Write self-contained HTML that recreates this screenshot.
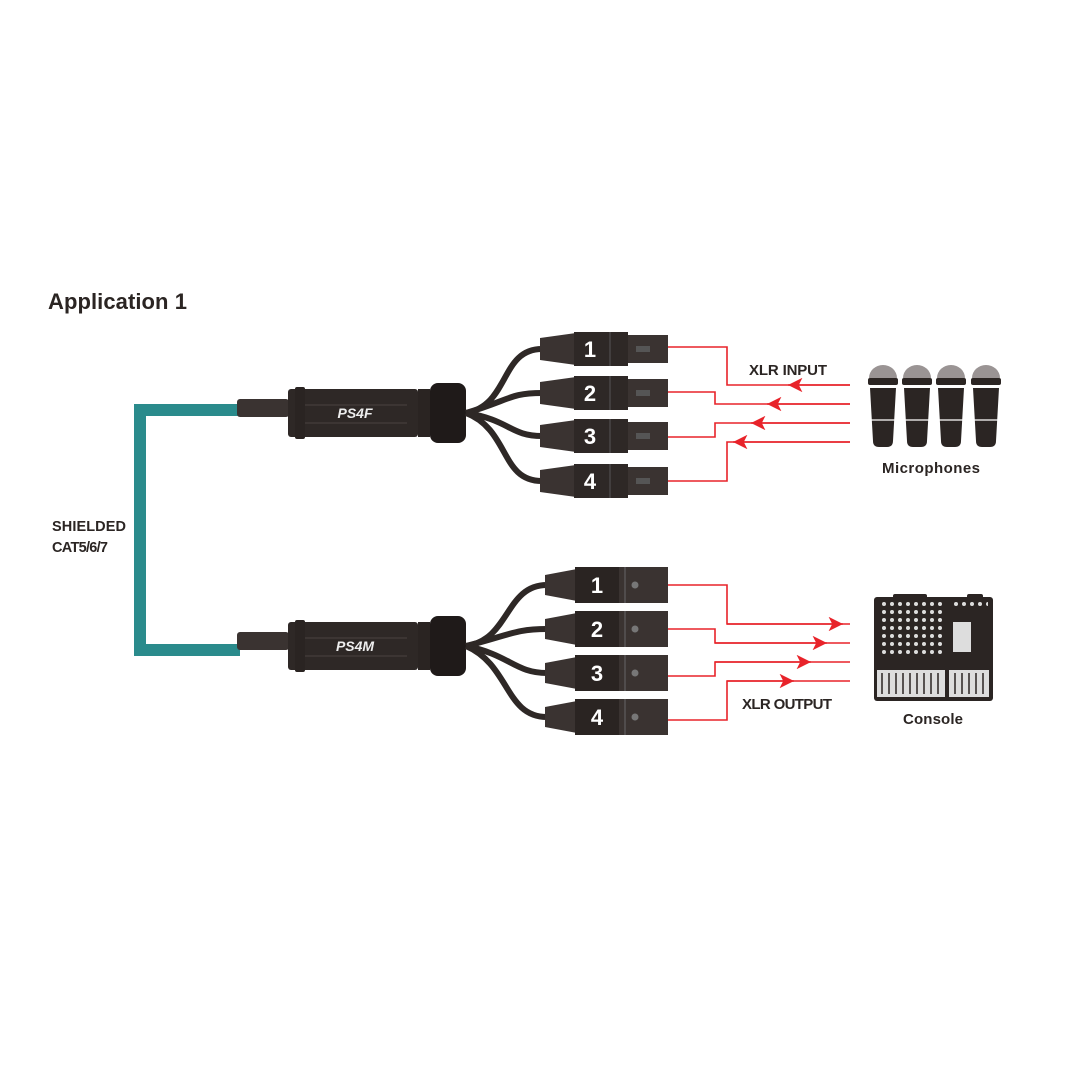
<!DOCTYPE html>
<html><head><meta charset="utf-8"><style>body{margin:0;background:#fff}svg{display:block}text{font-family:"Liberation Sans",sans-serif;font-weight:bold;fill:#2b2523}</style></head><body>
<svg width="1080" height="1080" viewBox="0 0 1080 1080">
<defs>
<g id="fem">
<path d="M0,-11 L36,-16 L36,16 L0,11 Z" fill="#3a3331"/>
<rect x="34" y="-17" width="54" height="34" fill="#2e2826"/>
<rect x="88" y="-14" width="40" height="28" fill="#3a3331"/>
<line x1="70" y1="-17" x2="70" y2="17" stroke="#555" stroke-width="1"/>
<rect x="96" y="-3" width="14" height="6" fill="#555"/>
</g>
<g id="male">
<path d="M0,-10 L32,-16 L32,16 L0,10 Z" fill="#3a3331"/>
<rect x="30" y="-18" width="44" height="36" fill="#2a2422"/>
<rect x="74" y="-18" width="49" height="36" fill="#3a3331"/>
<line x1="80" y1="-18" x2="80" y2="18" stroke="#666"/>
<circle cx="90" cy="0" r="3.5" fill="#777"/>
</g>
<g id="box">
<rect x="0" y="10" width="52" height="18" rx="3" fill="#3a3331"/>
<rect x="51" y="0" width="130" height="48" rx="3" fill="#2e2826"/>
<rect x="58" y="-2" width="10" height="52" rx="2" fill="#2a2422"/>
<line x1="68" y1="16" x2="170" y2="16" stroke="#4a4240"/>
<line x1="68" y1="34" x2="170" y2="34" stroke="#4a4240"/>
<rect x="181" y="0" width="12" height="48" fill="#2a2422"/>
<rect x="193" y="-6" width="36" height="60" rx="8" fill="#1f1a19"/>
</g>
<marker id="a" viewBox="0 0 10 10" refX="10" refY="5" markerWidth="9" markerHeight="9" markerUnits="strokeWidth" orient="auto"><path d="M0,0 L10,5 L0,10 L2.5,5 Z" fill="#e8232a"/></marker>
<pattern id="dots" width="8" height="8" patternUnits="userSpaceOnUse"><circle cx="4" cy="4" r="2" fill="#ddd"/></pattern>
</defs>
<text x="48" y="309" font-size="22" textLength="139">Application 1</text>
<text x="52" y="531" font-size="14.5" textLength="74">SHIELDED</text>
<text x="52" y="552" font-size="14.5" textLength="56">CAT5/6/7</text>
<path d="M240,410 H140 V650 H240" fill="none" stroke="#2a8b8c" stroke-width="12"/>
<use href="#box" x="237" y="389"/>
<use href="#box" x="237" y="622"/>
<text x="355" y="418" font-size="14" style="fill:#eee;font-style:italic" text-anchor="middle">PS4F</text>
<text x="355" y="651" font-size="14" style="fill:#eee;font-style:italic" text-anchor="middle">PS4M</text>
<g fill="none" stroke="#2e2826" stroke-width="6">
<path d="M466,413 C510,405 500,349 542,349"/><path d="M466,413 C510,400 510,393 542,393"/>
<path d="M466,413 C510,420 510,436 542,436"/><path d="M466,413 C510,430 500,481 542,481"/>
<path d="M466,646 C510,640 505,585 547,585"/><path d="M466,646 C510,635 515,629 547,629"/>
<path d="M466,646 C510,655 515,673 547,673"/><path d="M466,646 C510,665 505,717 547,717"/>
</g>
<use href="#fem" x="540" y="349"/><use href="#fem" x="540" y="393"/><use href="#fem" x="540" y="436"/><use href="#fem" x="540" y="481"/>
<use href="#male" x="545" y="585"/><use href="#male" x="545" y="629"/><use href="#male" x="545" y="673"/><use href="#male" x="545" y="717"/>
<g font-size="22" text-anchor="middle">
<text x="590" y="357" style="fill:#fff">1</text><text x="590" y="401" style="fill:#fff">2</text><text x="590" y="444" style="fill:#fff">3</text><text x="590" y="489" style="fill:#fff">4</text>
<text x="597" y="593" style="fill:#fff">1</text><text x="597" y="637" style="fill:#fff">2</text><text x="597" y="681" style="fill:#fff">3</text><text x="597" y="725" style="fill:#fff">4</text>
</g>
<g fill="none" stroke="#e8232a" stroke-width="1.6">
<path d="M668,347 H727 V385 H850"/><path d="M668,392 H715 V404 H850"/>
<path d="M668,437 H715 V423 H850"/><path d="M668,481 H727 V442 H850"/>
<path d="M850,385 H788" marker-end="url(#a)"/><path d="M850,404 H767" marker-end="url(#a)"/>
<path d="M850,423 H751" marker-end="url(#a)"/><path d="M850,442 H733" marker-end="url(#a)"/>
<path d="M668,585 H727 V624 H850"/><path d="M668,629 H715 V643 H850"/>
<path d="M668,676 H715 V662 H850"/><path d="M668,720 H727 V681 H850"/>
<path d="M727,624 H843" marker-end="url(#a)"/><path d="M715,643 H827" marker-end="url(#a)"/>
<path d="M715,662 H811" marker-end="url(#a)"/><path d="M727,681 H794" marker-end="url(#a)"/>
</g>
<text x="788" y="375" font-size="15" text-anchor="middle" textLength="78">XLR INPUT</text>
<text x="787" y="709" font-size="15" text-anchor="middle" textLength="90">XLR OUTPUT</text>
<g fill="#2b2523">
<g id="mic"><path d="M869,378 A14,13 0 0 1 897,378 Z" fill="#9a9494"/><rect x="868" y="378" width="30" height="7" rx="2"/><path d="M870,388 H896 L893,441 Q893,447 887,447 H879 Q873,447 873,441 Z"/><line x1="871" y1="420" x2="895" y2="420" stroke="#fff" stroke-width="1.2"/></g>
<use href="#mic" x="34"/><use href="#mic" x="68"/><use href="#mic" x="103"/>
</g>
<text x="931" y="473" font-size="15" text-anchor="middle" textLength="98">Microphones</text>
<rect x="874" y="597" width="119" height="104" rx="3" fill="#2b2523"/>
<rect x="893" y="594" width="34" height="5" rx="2" fill="#2b2523"/>
<rect x="967" y="594" width="16" height="5" rx="2" fill="#2b2523"/>
<rect x="879" y="600" width="65" height="58" fill="url(#dots)"/>
<rect x="950" y="600" width="38" height="8" fill="url(#dots)"/>
<rect x="953" y="622" width="18" height="30" fill="#ddd"/>
<g fill="#ddd">
<rect x="877" y="670" width="68" height="27"/><rect x="949" y="670" width="40" height="27"/>
</g>
<g stroke="#2b2523" stroke-width="1.5">
<path d="M882,673 V694 M889,673 V694 M896,673 V694 M903,673 V694 M910,673 V694 M917,673 V694 M924,673 V694 M931,673 V694 M938,673 V694 M955,673 V694 M962,673 V694 M969,673 V694 M976,673 V694 M983,673 V694"/>
</g>
<text x="933" y="724" font-size="15" text-anchor="middle" textLength="60">Console</text>
</svg>
</body></html>
